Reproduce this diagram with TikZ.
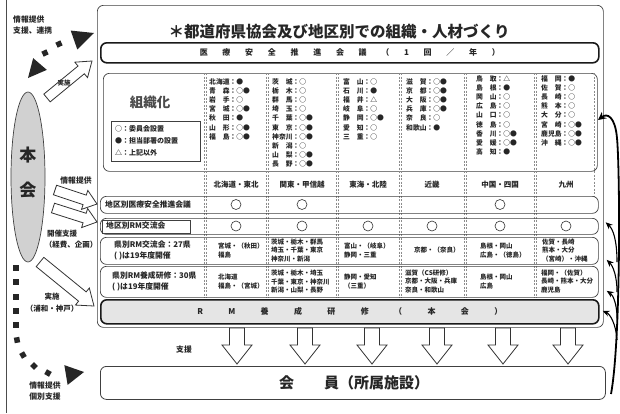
\documentclass[tikz,border=0pt]{standalone}
\usepackage{fontspec}
\setmainfont{Noto Sans CJK JP}
\usetikzlibrary{calc,arrows.meta,shapes.geometric}
\newcommand\pref[2]{\makebox[3em][s]{#1}：#2}
\newcommand\fsz[2]{\fontsize{#1}{#2}\selectfont}
\newcommand\barrow[5]{%
  \coordinate (bahead) at ($(#2)!#5!(#1)$);
  \draw[blockarr] ($(#1)!#3!90:(#2)$) -- ($(bahead)!#3!90:(#2)$) -- ($(bahead)!#4!90:(#2)$) -- (#2) -- ($(bahead)!#4!-90:(#2)$) -- ($(bahead)!#3!-90:(#2)$) -- ($(#1)!#3!-90:(#2)$) -- cycle;}
\newcommand\headtri[3]{\fill[black!85] (#1) -- ($(#2)!#3!90:(#1)$) -- ($(#2)!#3!-90:(#1)$) -- cycle;}
\begin{document}
\begin{tikzpicture}[x=1pt,y=-1pt,
  thinbox/.style={draw=black!75, line width=0.7pt, rounded corners=6pt, inner sep=0pt, anchor=north west},
  thickbox/.style={draw=black!90, line width=1.6pt, rounded corners=6pt, inner sep=0pt, anchor=north west},
  txt/.style={inner sep=0pt, text=black!85},
  colsep/.style={draw=black!45, dash pattern=on 2pt off 1.5pt, line width=0.4pt},
  blockarr/.style={draw=black!80, fill=white, line width=0.8pt, line join=miter},
  fb/.style={draw=black, line width=1.1pt, -{Stealth[length=7pt,width=6pt]}},
  fbmain/.style={draw=black, line width=1.8pt, -{Stealth[length=8pt,width=8pt]}},
  sq/.style={fill=black!85, minimum size=5.5pt, inner sep=0pt},
  dotc/.style={draw=black!80, circle, minimum size=10pt, inner sep=0pt, line width=0.6pt},
  cell/.style={txt, anchor=west, align=left, font=\fsz{6.5}{8.2}\bfseries},
  plist/.style={txt, anchor=north west, align=left, font=\fsz{6.8}{9.2}\bfseries},
  reg/.style={txt, font=\fsz{7.5}{7.5}\bfseries},
  lbl/.style={txt, font=\fsz{7.8}{10.5}\bfseries}]
\useasboundingbox (0,0) rectangle (620,413);
\fill[white] (0,0) rectangle (620,413);
\draw[black!70, line width=0.8pt] (6,0) -- (6,413);

% main frame
\node[thinbox, minimum width=506pt, minimum height=322pt] (outer) at (97,5) {};
\node[txt, font=\fsz{15.5}{15.5}\bfseries] (title) at (339,32) {＊都道府県協会及び地区別での組織・人材づくり};
\node[thickbox, minimum width=498pt, minimum height=20pt] (bar1) at (100,42) {};
\node[txt, font=\fsz{8}{8}\bfseries] (bar1t) at (bar1.center) {\makebox[300pt][s]{医\hfill 療\hfill 安\hfill 全\hfill 推\hfill 進\hfill 会\hfill 議\hfill （\hfill 1\hfill 回\hfill ／\hfill 年\hfill ）}};

% organisation box
\node[thinbox, minimum width=494pt, minimum height=98pt] (org) at (103,73) {};
\foreach \cx in {205,267,337,400,465,535} {
  \draw[colsep] (\cx-1.2,73) -- (\cx-1.2,298);
  \draw[colsep] (\cx+1.2,73) -- (\cx+1.2,298);
}
\draw[colsep] (594,73) -- (594,196);
\node[txt, font=\fsz{13.5}{13.5}\bfseries, text=black!70] (soshiki) at (150,102) {組織化};
\node[draw=black!75, line width=0.6pt, minimum width=89pt, minimum height=40pt, anchor=north west, inner sep=0pt] (legend) at (111,121) {};
\node[txt, anchor=west, align=left, font=\fsz{7}{12}\bfseries] (legendt) at ($(legend.west)+(4,0)$) {○：委員会設置\\●：担当部署の設置\\△：上記以外};

\node[plist] (p1) at (209,78) {\pref{北海道}{●}\\\pref{青\hfil 森}{○●}\\\pref{岩\hfil 手}{○}\\\pref{宮\hfil 城}{○●}\\\pref{秋\hfil 田}{●}\\\pref{山\hfil 形}{○●}\\\pref{福\hfil 島}{○●}};
\node[plist] (p2) at (272,78) {\pref{茨\hfil 城}{○}\\\pref{栃\hfil 木}{○}\\\pref{群\hfil 馬}{○}\\\pref{埼\hfil 玉}{○}\\\pref{千\hfil 葉}{○●}\\\pref{東\hfil 京}{○●}\\\pref{神奈川}{○●}\\\pref{新\hfil 潟}{○}\\\pref{山\hfil 梨}{○●}\\\pref{長\hfil 野}{○●}};
\node[plist] (p3) at (343,78) {\pref{富\hfil 山}{○}\\\pref{石\hfil 川}{●}\\\pref{福\hfil 井}{△}\\\pref{岐\hfil 阜}{○}\\\pref{静\hfil 岡}{○●}\\\pref{愛\hfil 知}{○}\\\pref{三\hfil 重}{○}};
\node[plist] (p4) at (406,78) {\pref{滋\hfil 賀}{○●}\\\pref{京\hfil 都}{○●}\\\pref{大\hfil 阪}{○●}\\\pref{兵\hfil 庫}{○●}\\\pref{奈\hfil 良}{○}\\\pref{和歌山}{●}};
\node[plist] (p5) at (476,75) {\pref{鳥\hfil 取}{△}\\\pref{島\hfil 根}{●}\\\pref{岡\hfil 山}{○}\\\pref{広\hfil 島}{○}\\\pref{山\hfil 口}{○}\\\pref{徳\hfil 島}{○}\\\pref{香\hfil 川}{○●}\\\pref{愛\hfil 媛}{○●}\\\pref{高\hfil 知}{●}};
\node[plist] (p6) at (541,75) {\pref{福\hfil 岡}{●}\\\pref{佐\hfil 賀}{○}\\\pref{長\hfil 崎}{○}\\\pref{熊\hfil 本}{○}\\\pref{大\hfil 分}{○}\\\pref{宮\hfil 崎}{○●}\\\pref{鹿児島}{○●}\\\pref{沖\hfil 縄}{○●}};

% region labels
\node[reg] (g1) at (236,185) {北海道・東北};
\node[reg] (g2) at (302,185) {関東・甲信越};
\node[reg] (g3) at (368,185) {東海・北陸};
\node[reg] (g4) at (432,185) {近畿};
\node[reg] (g5) at (500,185) {中国・四国};
\node[reg] (g6) at (566,185) {九州};

% rows
\node[thinbox, minimum width=498pt, minimum height=17pt] (r1) at (100,196) {};
\node[lbl, anchor=west] (l1) at (105,204.5) {地区別医療安全推進会議};
\node[dotc] (c11) at (236,204.5) {};
\node[dotc] (c12) at (302,204.5) {};
\node[dotc] (c15) at (500,204.5) {};

\node[thinbox, minimum width=498pt, minimum height=16pt] (r2) at (100,218) {};
\node[draw=black!75, line width=0.6pt, minimum width=88pt, minimum height=13pt, anchor=north west, inner sep=0pt] (r2box) at (102,219.5) {};
\node[lbl, anchor=west] (l2) at (106,226) {地区別RM交流会};
\foreach \cx/\nm in {236/1,302/2,368/3,432/4,500/5,566/6} {\node[dotc] (c2\nm) at (\cx,226) {};}

\node[thinbox, minimum width=498pt, minimum height=27pt] (r3) at (100,237) {};
\node[lbl, anchor=west, align=left] (l3) at (114,250.5) {県別RM交流会：27県\\(\ )は19年度開催};
\node[cell] (a1) at (218,250.5) {宮城・（秋田）\\福島};
\node[cell] (a2) at (271,250.5) {茨城・栃木・群馬\\埼玉・千葉・東京\\神奈川・新潟};
\node[cell] (a3) at (344,250.5) {富山・（岐阜）\\静岡・三重};
\node[cell] (a4) at (414,250.5) {京都・（奈良）};
\node[cell] (a5) at (480,250.5) {島根・岡山\\広島・（徳島）};
\node[cell] (a6) at (542,250.5) {佐賀・長崎\\熊本・大分\\（宮崎）・沖縄};

\node[thinbox, minimum width=498pt, minimum height=31pt] (r4) at (100,266) {};
\node[lbl, anchor=west, align=left] (l4) at (112,281.5) {県別RM養成研修：30県\\(\ )は19年度開催};
\node[cell] (b1) at (218,281.5) {北海道\\福島・（宮城）};
\node[cell] (b2) at (271,281.5) {茨城・栃木・埼玉\\千葉・東京・神奈川\\新潟・山梨・長野};
\node[cell] (b3) at (344,281.5) {静岡・愛知\\（三重）};
\node[cell] (b4) at (405,281.5) {滋賀（CS研修）\\京都・大阪・兵庫\\奈良・和歌山};
\node[cell] (b5) at (480,281.5) {島根・岡山\\広島};
\node[cell] (b6) at (541,281.5) {福岡・（佐賀）\\長崎・熊本・大分\\鹿児島};

\node[thickbox, fill=black!10, minimum width=498pt, minimum height=24pt] (r5) at (100,299) {};
\node[txt, font=\fsz{8}{8}\bfseries] (r5t) at (r5.center) {\makebox[305pt][s]{R\hfill M\hfill 養\hfill 成\hfill 研\hfill 修\hfill （\hfill 本\hfill 会\hfill ）}};

% down arrows to members
\foreach \cx/\nm in {237/1,305/2,372/3,437/4,503/5,568/6} {
  \coordinate (da\nm) at (\cx,328);
  \coordinate (db\nm) at (\cx,364);
  \barrow{da\nm}{db\nm}{7.5pt}{15pt}{19pt}
}
\node[lbl] (shien) at (184,350) {支援};
\node[thinbox, line width=0.8pt, minimum width=505pt, minimum height=33pt] (kaiin) at (100,366) {};
\node[txt, font=\fsz{15}{15}\bfseries] (kaiint) at (354,383) {会　　員（所属施設）};

% honkai
\node[ellipse, draw=black!75, fill=black!18, minimum width=34pt, minimum height=170pt, inner sep=0pt, line width=0.7pt] (honkai) at (28,177) {};
\node[txt, font=\fsz{17}{17}\bfseries] (hon) at (28,155) {本};
\node[txt, font=\fsz{17}{17}\bfseries] (kai) at (28,190) {会};

% left white arrows
\coordinate (w1a) at (47,98); \coordinate (w1b) at (92,61);
\barrow{w1a}{w1b}{5pt}{10pt}{14pt}
\node[txt, font=\fsz{6.5}{6.5}\bfseries] (jisshi1) at (64,83) {実施};
\coordinate (w2a) at (55,190); \coordinate (w2b) at (97,204);
\barrow{w2a}{w2b}{5pt}{10pt}{13pt}
\coordinate (w3a) at (53,208); \coordinate (w3b) at (97,222);
\barrow{w3a}{w3b}{5pt}{10pt}{13pt}
\coordinate (w4a) at (40,262); \coordinate (w4b) at (94,306);
\barrow{w4a}{w4b}{6pt}{11pt}{15pt}
\node[lbl, anchor=north west, align=left] (topinfo) at (13,16) {情報提供\\支援、連携};
\node[lbl] (info2) at (76,181) {情報提供};
\node[lbl, align=center, font=\fsz{7.5}{11}\bfseries] (kaisai) at (71,239.5) {\hspace*{-18pt}開催支援\\（経費、企画）};
\node[lbl, align=center, font=\fsz{7.5}{12}\bfseries] (jisshi2) at (52,302.5) {実施\\（浦和・神戸）};
\node[lbl, align=center, font=\fsz{7.8}{11}\bfseries] (botinfo) at (45,391.5) {情報提供\\個別支援};

% dotted arrows (top, double headed)
\node[sq, rotate=25] (t1) at (45,53) {};
\node[sq, rotate=25] (t2) at (59,44) {};
\coordinate (th1tip) at (28,78); \coordinate (th1base) at (40,64);
\headtri{th1tip}{th1base}{9pt}
\coordinate (th2tip) at (94,33); \coordinate (th2base) at (74,40);
\headtri{th2tip}{th2base}{10pt}
% dotted arrow (bottom)
\foreach \py/\nm in {268/1,282/2,297/3,311/4,325/5} {\node[sq] (u\nm) at (16,\py) {};}
\node[sq, rotate=10] (u6) at (17,340) {};
\node[sq, rotate=30] (u7) at (23,355) {};
\node[sq, rotate=45] (u8) at (34,366) {};
\node[sq, rotate=60] (u9) at (48,373) {};
\coordinate (bhtip) at (84,372); \coordinate (bhbase) at (66,375);
\headtri{bhtip}{bhbase}{10pt}

% feedback arrows on the right
\coordinate (fb0) at (611,394);
\coordinate (fbt) at (598,120);
\draw[fbmain] (fb0) .. controls (621,340) and (620,170) .. (617,138) .. controls (615,116) and (607,113) .. (fbt);
\coordinate (f1s) at (617,262); \coordinate (f1e) at ($(r2.east)+(7,-4)$);
\coordinate (f2s) at (617,292); \coordinate (f2e) at ($(r3.east)+(8,9)$);
\coordinate (f3s) at (617,318); \coordinate (f3e) at ($(r4.east)+(8,9)$);
\coordinate (f4s) at (617,340); \coordinate (f4e) at ($(r5.east)+(3,-1)$);
\draw[fb] (f1s) .. controls (617,240) and (613,229) .. (f1e);
\draw[fb] (f2s) .. controls (617,276) and (613,266) .. (f2e);
\draw[fb] (f3s) .. controls (617,304) and (613,295) .. (f3e);
\draw[fb] (f4s) .. controls (616,324) and (610,314) .. (f4e);
\end{tikzpicture}
\end{document}
